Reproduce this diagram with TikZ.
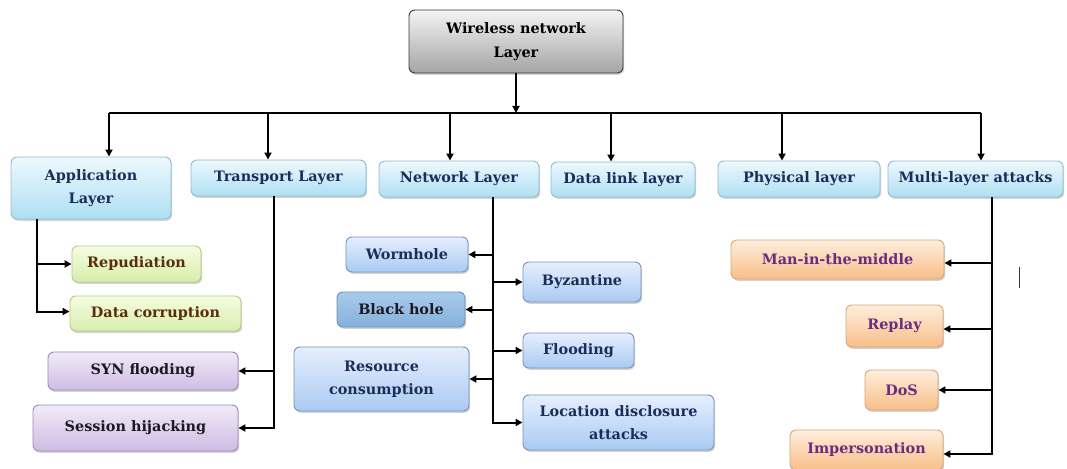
\documentclass[tikz,border=0pt]{standalone}
\usepackage{fontspec}
\setmainfont{DejaVu Serif}
\usetikzlibrary{shadows,arrows.meta}
\definecolor{navy}{HTML}{1B2D5A}
\definecolor{brownt}{HTML}{5A2D0C}
\definecolor{purplet}{HTML}{6B2C80}
\definecolor{darkt}{HTML}{1A1A22}
\definecolor{layT}{HTML}{EEF9FD}\definecolor{layB}{HTML}{AEDFF3}\definecolor{layD}{HTML}{8DBDCF}
\definecolor{grnT}{HTML}{F6FCE2}\definecolor{grnB}{HTML}{D6EEAC}\definecolor{grnD}{HTML}{B3CA8C}
\definecolor{purT}{HTML}{F2EAF9}\definecolor{purB}{HTML}{CFBCE4}\definecolor{purD}{HTML}{9C8AB5}
\definecolor{bluT}{HTML}{E6EFFD}\definecolor{bluB}{HTML}{AACAF2}\definecolor{bluD}{HTML}{7494C0}
\definecolor{bhT}{HTML}{A9CBEA}\definecolor{bhB}{HTML}{85B0DC}\definecolor{bhD}{HTML}{6A8FBA}
\definecolor{orgT}{HTML}{FEEEDC}\definecolor{orgB}{HTML}{F8BE88}\definecolor{orgD}{HTML}{D9A67A}
\definecolor{rootT}{HTML}{F4F4F4}\definecolor{rootB}{HTML}{A4A4A4}\definecolor{rootD}{HTML}{3A3A3A}
\begin{document}
\begin{tikzpicture}[x=1pt,y=-1pt,
  box/.style={draw, rounded corners=6pt, inner sep=0pt, align=center,
    font=\bfseries\fontsize{14.4}{23}\selectfont, line width=0.9pt,
    drop shadow={opacity=0.35,shadow xshift=1.2pt,shadow yshift=-1.8pt}},
  rootbox/.style={box, top color=rootT, bottom color=rootB, draw=rootD, text=black},
  layerbox/.style={box, top color=layT, bottom color=layB, draw=layD, text=navy},
  greenbox/.style={box, top color=grnT, bottom color=grnB, draw=grnD, text=brownt},
  purplebox/.style={box, top color=purT, bottom color=purB, draw=purD, text=darkt},
  bluebox/.style={box, top color=bluT, bottom color=bluB, draw=bluD, text=navy},
  bhbox/.style={box, top color=bhT, bottom color=bhB, draw=bhD, text=darkt},
  orangebox/.style={box, top color=orgT, bottom color=orgB, draw=orgD, text=purplet},
  conn/.style={line width=2pt, line join=miter},
  arr/.style={conn, -{Triangle[length=7pt,width=7pt]}}]
\fill[white] (0,0) rectangle (1067,468);
\useasboundingbox (0,0) rectangle (1067,468);

% root
\node[rootbox, minimum width=214pt, minimum height=63pt, font=\bfseries\fontsize{14.4}{24}\selectfont] (root) at (516,41.5) {Wireless network\\Layer};

% layers
\node[layerbox, minimum width=160pt, minimum height=62pt] (app) at (91,188) {Application\\Layer};
\node[layerbox, minimum width=175pt, minimum height=36pt] (trans) at (278.5,178) {Transport Layer};
\node[layerbox, minimum width=160pt, minimum height=36pt] (net) at (459,179) {Network Layer};
\node[layerbox, minimum width=144pt, minimum height=35pt] (dl) at (623,179.5) {Data link layer};
\node[layerbox, minimum width=162pt, minimum height=36pt] (phys) at (799,179) {Physical layer};
\node[layerbox, minimum width=175pt, minimum height=36pt] (multi) at (975.5,179) {Multi-layer attacks};

% application attacks
\node[greenbox, minimum width=129pt, minimum height=36pt] (rep) at (136.5,264) {Repudiation};
\node[greenbox, minimum width=171pt, minimum height=35pt] (dc) at (155.5,313.5) {Data corruption};

% transport attacks
\node[purplebox, minimum width=190pt, minimum height=38pt] (syn) at (143,371) {SYN flooding};
\node[purplebox, minimum width=205pt, minimum height=46pt] (sess) at (135.5,428) {Session hijacking};

% network attacks
\node[bluebox, minimum width=122pt, minimum height=35pt] (worm) at (407,254.5) {Wormhole};
\node[bhbox, minimum width=128pt, minimum height=35pt] (bh) at (401,309.5) {Black hole};
\node[bluebox, minimum width=175pt, minimum height=64pt] (res) at (381.5,379) {Resource\\consumption};
\node[bluebox, minimum width=118pt, minimum height=40pt] (byz) at (582,282) {Byzantine};
\node[bluebox, minimum width=111pt, minimum height=35pt] (flood) at (578.5,350.5) {Flooding};
\node[bluebox, minimum width=191pt, minimum height=55pt] (loc) at (618.5,422.5) {Location disclosure\\attacks};

% multi-layer attacks
\node[orangebox, minimum width=213pt, minimum height=39pt] (mitm) at (837.5,259.5) {Man-in-the-middle};
\node[orangebox, minimum width=97pt, minimum height=42pt] (replay) at (894.5,326) {Replay};
\node[orangebox, minimum width=73pt, minimum height=40pt] (dos) at (901.5,390) {DoS};
\node[orangebox, minimum width=153pt, minimum height=40pt] (imp) at (866.5,450) {Impersonation};

% bus
\coordinate (b1) at (109,113);
\coordinate (b2) at (268,113);
\coordinate (b3) at (450,113);
\coordinate (b4) at (611,113);
\coordinate (b5) at (782,113);
\coordinate (b6) at (981,113);
\draw[conn] (b1) -- (b6);
\draw[arr] (root.south) -- (root.south |- b1);
\draw[arr] (b1) -- (b1 |- app.north);
\draw[arr] (b2) -- (b2 |- trans.north);
\draw[arr] (b3) -- (b3 |- net.north);
\draw[arr] (b4) -- (b4 |- dl.north);
\draw[arr] (b5) -- (b5 |- phys.north);
\draw[arr] (b6) -- (b6 |- multi.north);

% application branch
\coordinate (aL) at (37,0);
\draw[arr] (app.south -| aL) |- (rep.west);
\draw[arr] (app.south -| aL) |- ([yshift=2pt]dc.west);

% transport branch
\coordinate (tL) at (274,0);
\draw[arr] (trans.south -| tL) |- (syn.east);
\draw[arr] (trans.south -| tL) |- (sess.east);

% network branch
\coordinate (nL) at (493,0);
\draw[arr] (net.south -| nL) |- (worm.east);
\draw[arr] (net.south -| nL) |- (bh.east);
\draw[arr] (net.south -| nL) |- (res.east);
\draw[arr] (net.south -| nL) |- (byz.west);
\draw[arr] (net.south -| nL) |- (flood.west);
\draw[arr] (net.south -| nL) |- (loc.west);

% multi-layer branch
\coordinate (mL) at (992,0);
\draw[arr] (multi.south -| mL) |- ([yshift=-3.5pt]mitm.east);
\draw[arr] (multi.south -| mL) |- ([yshift=-3pt]replay.east);
\draw[arr] (multi.south -| mL) |- (dos.east);
\draw[arr] (multi.south -| mL) |- ([yshift=-4pt]imp.east);

% stray mark
\draw[line width=0.9pt, black!80] (1019,267) -- (1019,288);
\end{tikzpicture}
\end{document}
